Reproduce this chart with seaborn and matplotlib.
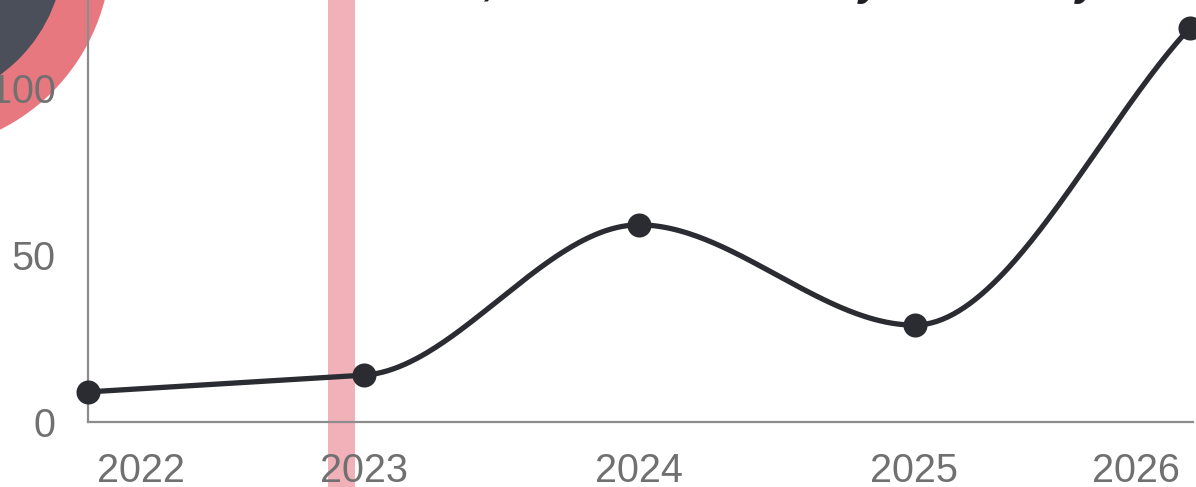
import numpy as np
import pandas as pd
import matplotlib
matplotlib.use("Agg")
import matplotlib.pyplot as plt
import matplotlib.transforms as mtrans
from matplotlib.patches import Circle
import seaborn as sns

# ---- data ----
years = [2022, 2023, 2024, 2025, 2026]
values = [9, 14, 59, 29, 118]
y_ticks = [0, 50, 100]
x_tick_labels = ["2022", "2023", "2024", "2025", "2026"]
band_center = 2022.92
band_width = 0.098
title_text = "As Costs Climb, Revenue Is Steady Before a year-end spike"

# ---- style ----
sns.set_theme(style="white")
plt.rcParams['font.family'] = ['Liberation Sans', 'DejaVu Sans']

LINE = "#2a2c31"
GRAY = "#707070"
SPINE = "#8c8c8c"
BAND = "#f0b1b8"

W, H = 1196, 487
fig = plt.figure(figsize=(W / 100, H / 100), dpi=100)
fig.patch.set_facecolor("white")

# decorative background layer (pixel coordinates)
bg = fig.add_axes([0, 0, 1, 1], zorder=0)
bg.set_xlim(0, W)
bg.set_ylim(H, 0)
bg.axis("off")
bg.add_patch(Circle((-90, -50), 201, color="#e8787f", lw=0))
bg.add_patch(Circle((-90, -50), 154, color="#4a4f5a", lw=0))

# main axes
x0, x1, yb = 88, 1190, 422
ax = fig.add_axes([x0 / W, (H - yb) / H, (x1 - x0) / W, yb / H], zorder=1)
ax.patch.set_alpha(0)
ax.set_xlim(2022, 2026)
ax.set_ylim(0, 126.3)

# highlight band spanning the full figure height
ax.axvspan(band_center - band_width / 2, band_center + band_width / 2,
           ymin=-(H - yb) / yb, ymax=1.0, color=BAND, lw=0, zorder=0, clip_on=False)


def smooth_curve(xs, ys, n=400):
    """Monotone-style Hermite smoothing: flat at local extremes."""
    xs = np.asarray(xs, float)
    ys = np.asarray(ys, float)
    d = np.diff(ys) / np.diff(xs)
    m = np.zeros_like(ys)
    m[0], m[-1] = d[0], d[-1]
    for k in range(1, len(ys) - 1):
        if d[k - 1] * d[k] <= 0:
            m[k] = 0.0
        else:
            m[k] = np.sign(d[k]) * min(abs(d[k - 1]), abs(d[k]))
    out_x, out_y = [], []
    for k in range(len(d)):
        h = xs[k + 1] - xs[k]
        t = np.linspace(0, 1, n // len(d), endpoint=(k == len(d) - 1))
        h00 = 2 * t**3 - 3 * t**2 + 1
        h10 = t**3 - 2 * t**2 + t
        h01 = -2 * t**3 + 3 * t**2
        h11 = t**3 - t**2
        out_x.append(xs[k] + t * h)
        out_y.append(h00 * ys[k] + h10 * h * m[k] + h01 * ys[k + 1] + h11 * h * m[k + 1])
    return np.concatenate(out_x), np.concatenate(out_y)


sx, sy = smooth_curve(years, values)
curve = pd.DataFrame({"year": sx, "value": sy})
pts = pd.DataFrame({"year": years, "value": values})

sns.lineplot(data=curve, x="year", y="value", ax=ax, color=LINE, lw=3.8,
             zorder=3, clip_on=False, estimator=None, sort=False)
sns.scatterplot(data=pts, x="year", y="value", ax=ax, color=LINE, s=300,
                edgecolor=LINE, linewidth=0, zorder=4, clip_on=False)

ax.set_xlabel("")
ax.set_ylabel("")
ax.set_yticks(y_ticks)
ax.set_yticklabels([str(v) for v in y_ticks])
ax.set_xticks(years)
ax.set_xticklabels(x_tick_labels)
ax.tick_params(axis="y", length=0, pad=23.5, labelsize=28.5, labelcolor=GRAY)
ax.tick_params(axis="x", length=0, pad=21.5, labelsize=28.5, labelcolor=GRAY)

labels = ax.get_xticklabels()
labels[0].set_ha("left")
labels[0].set_transform(labels[0].get_transform() + mtrans.ScaledTranslation(9 / 100, 0, fig.dpi_scale_trans))
labels[-1].set_ha("right")
labels[-1].set_transform(labels[-1].get_transform() + mtrans.ScaledTranslation(-10 / 100, 0, fig.dpi_scale_trans))

for side in ["top", "right"]:
    ax.spines[side].set_visible(False)
for side in ["left", "bottom"]:
    ax.spines[side].set_color(SPINE)
    ax.spines[side].set_linewidth(1.6)
ax.spines["bottom"].set_bounds(2022, 2026.01)

# title, mostly cropped above the top edge
fig.text(172 / W, 1 + 5.5 / H, title_text, ha="left", va="baseline",
         fontsize=30.5, fontweight="bold", fontstyle="italic", color="#1f2024")

fig.savefig("out.png", dpi=100, facecolor="white")
